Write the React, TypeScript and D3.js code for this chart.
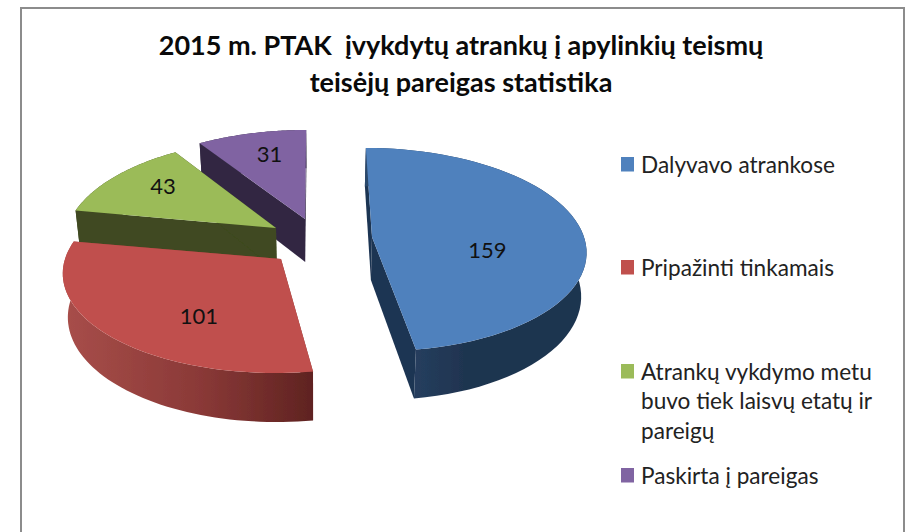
import React from "react";
import * as d3 from "d3";

const values = [159, 101, 43, 31];
const labels = ["Dalyvavo atrankose", "Pripažinti tinkamais", "Atrankų vykdymo metu buvo tiek laisvų etatų ir pareigų", "Paskirta į pareigas"];
const legendLines = [["Dalyvavo atrankose"], ["Pripažinti tinkamais"], ["Atrankų vykdymo metu", "buvo tiek laisvų etatų ir", "pareigų"], ["Paskirta į pareigas"]];
const titleLines = ["2015 m. PTAK  įvykdytų atrankų į apylinkių teismų", "teisėjų pareigas statistika"];
const topColors = ["#4f81bd", "#c0504d", "#9bbb59", "#8064a2"];
const faceColors = ["#1f3553", "#8a3a38", "#3f4a20", "#322843"];
const wallStops = [["#2c486c", "#1f3450", "#1f3450"], ["#a84e4a", "#8a3937", "#5f2321"], ["#3f4a20", "#3f4a20", "#3f4a20"], ["#322843", "#322843", "#322843"]];

// layout: apex of each exploded slice, label nudges, legend anchors
const apex = [[372, 237], [281, 259], [276, 228], [305, 219]];
const rxs = [212, 216, 209, 213];
const labelFrac = [0.54, 0.55, 0.55, 0.6];
const labelNudge = [[2, 17], [9, 17], [-22, -13], [-2, -11]];
const legendY = [157, 260, 364, 468];
const vpX = 316, ry = 100, persp = 0.123, depth = 43, baseShrink = 0.98;

const pieGen = d3.pie<number>().sort(null).startAngle(0).endAngle(2 * Math.PI);
const arcs = pieGen(values);

function project(ax: number, ay: number, a: number, r: number, rx: number) {
  const u = r * Math.sin(a), v = -r * Math.cos(a);
  const s = 1 / (1 - persp * v);
  return { x: vpX + (ax - vpX + rx * u) * s, y: ay + ry * v * s, s };
}
const baseX = (x: number) => vpX + (x - vpX) * baseShrink;
const pathOf = d3.line<[number, number]>().x((d) => d[0]).y((d) => d[1]);

export default function App() {
  const slices = arcs.map((arc, i) => {
    const [ax, ay] = apex[i];
    const rx = rxs[i];
    const angs = d3.range(0, 61).map((k) => arc.startAngle + ((arc.endAngle - arc.startAngle) * k) / 60);
    const rim = angs.map((a) => project(ax, ay, a, 1, rx));
    const topPts: [number, number][] = [[ax, ay], ...rim.map((p) => [p.x, p.y] as [number, number])];
    const wallPts: [number, number][] = [
      ...rim.map((p) => [p.x, p.y] as [number, number]),
      ...rim.slice().reverse().map((p) => [baseX(p.x), p.y + depth * p.s] as [number, number]),
    ];
    const face = (p: { x: number; y: number; s: number }): [number, number][] => [
      [ax, ay], [p.x, p.y], [baseX(p.x), p.y + depth * p.s], [baseX(ax), ay + depth],
    ];
    const mid = (arc.startAngle + arc.endAngle) / 2;
    const lp = project(ax, ay, mid, labelFrac[i], rx);
    return {
      i, top: pathOf(topPts)! + "Z", wall: pathOf(wallPts)! + "Z",
      f0: pathOf(face(rim[0]))! + "Z", f1: pathOf(face(rim[60]))! + "Z",
      lx: lp.x + labelNudge[i][0], ly: lp.y + labelNudge[i][1], v: arc.value,
    };
  });
  const order = [3, 2, 1, 0];
  return (
    <svg width={905} height={532} style={{ position: "absolute", left: 0, top: 0, background: "#fff" }} fontFamily="Lato, 'Open Sans', sans-serif" role="img" aria-label={labels.join(", ")}>
      <defs>
        <filter id="soft" x="-5%" y="-5%" width="110%" height="110%"><feGaussianBlur stdDeviation="0.45" /></filter>
        {wallStops.map((st, i) => (
          <linearGradient key={i} id={`wall${i}`} x1="0" x2="1" y1="0" y2="0">
            <stop offset="0" stopColor={st[0]} />
            <stop offset={i === 0 ? "0.45" : "0.55"} stopColor={st[1]} />
            <stop offset="1" stopColor={st[2]} />
          </linearGradient>
        ))}
      </defs>
      <path d="M21 532V8H904V532" fill="none" stroke="#8c8c8c" strokeWidth={2} />
      <g fontWeight={700} fontSize={27} textAnchor="middle" fill="#0a0a0a">
        {titleLines.map((t, i) => (
          <text key={i} x={461} y={55 + i * 37} xmlSpace="preserve">{t}</text>
        ))}
      </g>
      <g filter="url(#soft)">
        {order.map((i) => {
          const s = slices[i];
          return (
            <g key={i}>
              <path d={s.f0} fill={faceColors[i]} />
              <path d={s.f1} fill={faceColors[i]} />
              <path d={s.wall} fill={`url(#wall${i})`} />
              <path d={s.top} fill={topColors[i]} />
            </g>
          );
        })}
      </g>
      <g fontSize={22} textAnchor="middle" fill="#111">
        {slices.map((s) => (
          <text key={s.i} x={s.lx} y={s.ly} dy="0.35em">{s.v}</text>
        ))}
      </g>
      <g fontSize={22.6} fill="#222">
        {legendLines.map((lines, i) => (
          <g key={i}>
            <rect x={621} y={legendY[i]} width={13} height={14.5} fill={topColors[i]} />
            {lines.map((l, k) => (
              <text key={k} x={641} y={legendY[i] + 15.5 + k * 29.5}>{l}</text>
            ))}
          </g>
        ))}
      </g>
    </svg>
  );
}
